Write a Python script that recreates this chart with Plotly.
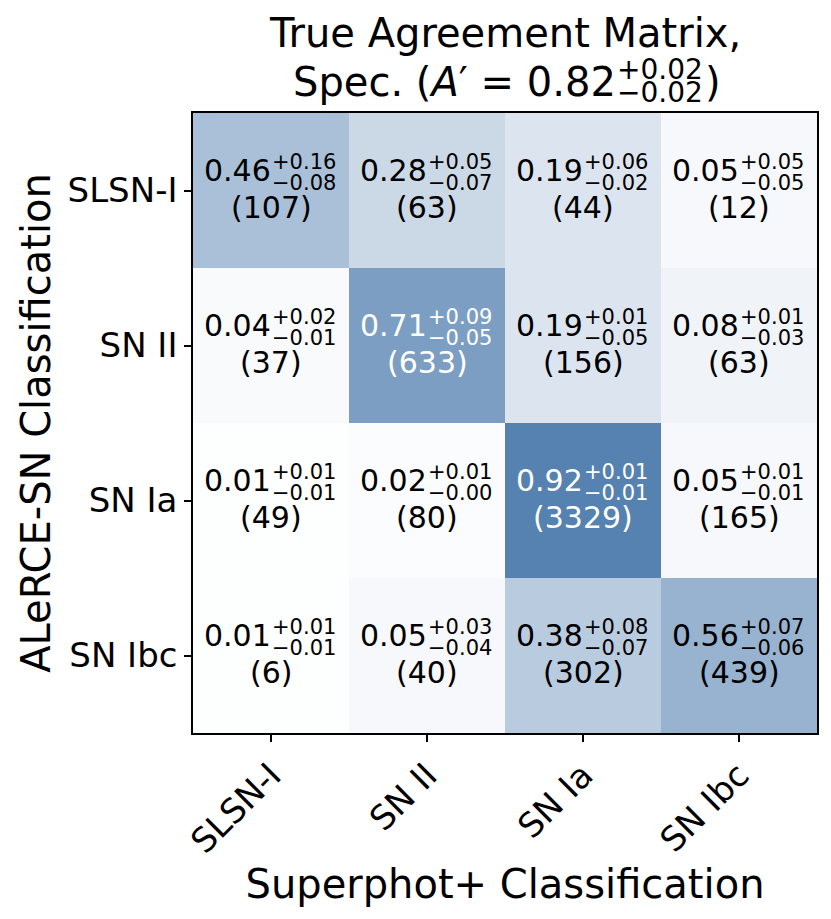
import plotly.graph_objects as go

classes = ["SLSN-I", "SN II", "SN Ia", "SN Ibc"]

# rows: ALeRCE-SN class, columns: Superphot+ class
frac = [
    [0.46, 0.28, 0.19, 0.05],
    [0.04, 0.71, 0.19, 0.08],
    [0.01, 0.02, 0.92, 0.05],
    [0.01, 0.05, 0.38, 0.56],
]
err_hi = [
    [0.16, 0.05, 0.06, 0.05],
    [0.02, 0.09, 0.01, 0.01],
    [0.01, 0.01, 0.01, 0.01],
    [0.01, 0.03, 0.08, 0.07],
]
err_lo = [
    [0.08, 0.07, 0.02, 0.05],
    [0.01, 0.05, 0.05, 0.03],
    [0.01, 0.00, 0.01, 0.01],
    [0.01, 0.04, 0.07, 0.06],
]
counts = [
    [107, 63, 44, 12],
    [37, 633, 156, 63],
    [49, 80, 3329, 165],
    [6, 40, 302, 439],
]
a_prime = 0.82
a_prime_hi = 0.02
a_prime_lo = 0.02

FONT = "DejaVu Sans"

fig = go.Figure(go.Heatmap(
    z=frac, x=classes, y=classes,
    zmin=0, zmax=1,
    colorscale=[[0, "#ffffff"], [1, "#4677aa"]],
    showscale=False, hoverinfo="skip",
))

annots = []
for i, row_cls in enumerate(classes):
    for j, col_cls in enumerate(classes):
        col = "white" if frac[i][j] > 0.6 else "black"
        common = dict(x=col_cls, y=row_cls, xref="x", yref="y", showarrow=False,
                      borderpad=0, borderwidth=0, yanchor="middle")
        annots.append(dict(common, text=f"{frac[i][j]:.2f}", xanchor="right", xshift=0, yshift=20,
                           font=dict(family=FONT, size=30, color=col)))
        annots.append(dict(common, text=f"+{err_hi[i][j]:.2f}", xanchor="left", xshift=1, yshift=29,
                           font=dict(family=FONT, size=21, color=col)))
        annots.append(dict(common, text=f"\u2212{err_lo[i][j]:.2f}", xanchor="left", xshift=1, yshift=8,
                           font=dict(family=FONT, size=21, color=col)))
        annots.append(dict(common, text=f"({counts[i][j]})", yshift=-17,
                           font=dict(family=FONT, size=30, color=col)))

# title, built in pieces so the +/- errors can be stacked
tfont = dict(family=FONT, size=40, color="black")
sfont = dict(family=FONT, size=28, color="black")
tp = dict(xref="paper", yref="paper", showarrow=False, yanchor="middle", borderpad=0, borderwidth=0)
annots.append(dict(tp, text="True Agreement Matrix,", x=0.5, y=1.129, xanchor="center", font=tfont))
annots.append(dict(tp, text=f"Spec. (<i>A</i>\u2032 = {a_prime:.2f}", x=0.5, y=1.05,
                   xanchor="right", xshift=111, font=tfont))
annots.append(dict(tp, text=f"+{a_prime_hi:.2f}", x=0.5, y=1.05,
                   xanchor="left", xshift=112, yshift=12, font=sfont))
annots.append(dict(tp, text=f"\u2212{a_prime_lo:.2f}", x=0.5, y=1.05,
                   xanchor="left", xshift=112, yshift=-11, font=sfont))
annots.append(dict(tp, text=")", x=0.5, y=1.05, xanchor="left", xshift=200, font=tfont))

axis_style = dict(
    showline=True, linecolor="black", linewidth=1.5, mirror=True,
    ticks="outside", ticklen=7, tickwidth=1.5, tickcolor="black",
    tickfont=dict(family=FONT, size=34, color="black"),
    showgrid=False, zeroline=False, automargin=False,
)

# the page body adds an 8px offset, so the margins are shifted to compensate
fig.update_layout(
    width=831, height=919,
    margin=dict(l=185, r=22, t=105, b=194),
    paper_bgcolor="white", plot_bgcolor="white",
    annotations=annots,
    xaxis=dict(axis_style, tickangle=-45,
               title=dict(text="Superphot+ Classification",
                          font=dict(family=FONT, size=40, color="black"), standoff=5)),
    yaxis=dict(axis_style, autorange="reversed",
               title=dict(text="ALeRCE-SN Classification",
                          font=dict(family=FONT, size=40, color="black"), standoff=5)),
)

fig.write_html("out.html")
